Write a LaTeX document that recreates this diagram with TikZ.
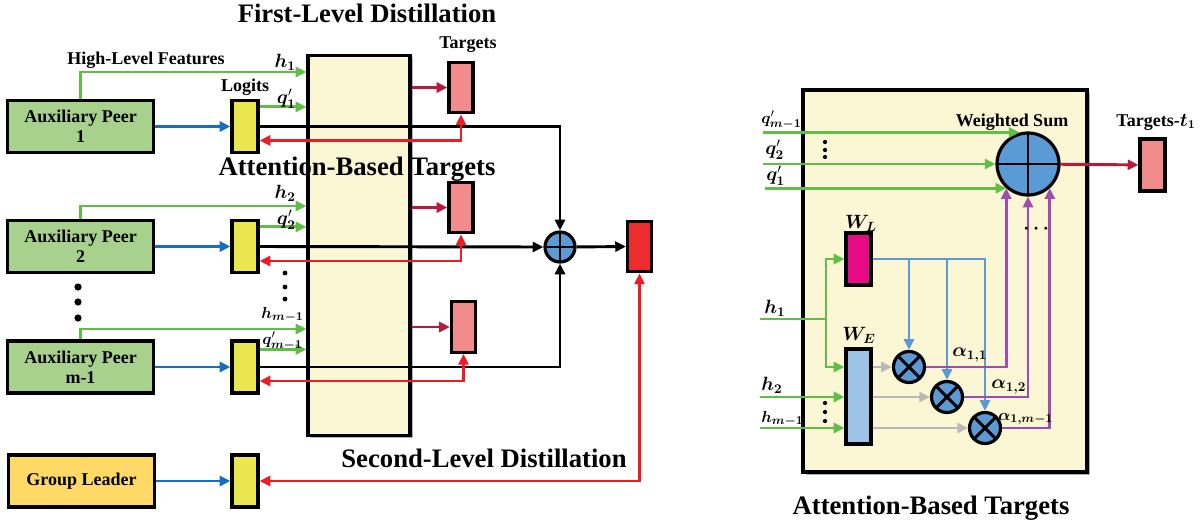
\documentclass[tikz,border=0pt]{standalone}
\usepackage{fontspec}
\setmainfont{Liberation Serif}
\usepackage{amsmath,bm}
\usetikzlibrary{arrows.meta,calc,shadows,positioning}
\definecolor{PeerGreen}{RGB}{169,209,142}
\definecolor{LeadGold}{RGB}{255,217,102}
\definecolor{LogitYellow}{RGB}{234,230,80}
\definecolor{DistCream}{RGB}{251,246,212}
\definecolor{TgtPink}{RGB}{242,140,140}
\definecolor{FinalRed}{RGB}{237,45,45}
\definecolor{SumBlue}{RGB}{91,155,213}
\definecolor{WLMagenta}{RGB}{230,10,135}
\definecolor{WELight}{RGB}{157,195,230}
\definecolor{ArrGreen}{RGB}{95,190,70}
\definecolor{ArrBlue}{RGB}{20,110,195}
\definecolor{ArrRed}{RGB}{237,28,36}
\definecolor{ArrCrimson}{RGB}{185,25,60}
\definecolor{ArrPurple}{RGB}{160,75,175}
\definecolor{ArrGray}{RGB}{185,185,185}
\newcommand{\lblfont}{\fontsize{13.5}{15}\selectfont\bfseries}
\newcommand{\mthfont}{\fontsize{14.5}{16}\selectfont\bfseries}
\newcommand{\smthfont}{\fontsize{12.5}{14}\selectfont\bfseries}
\newcommand{\ttlfont}{\fontsize{20}{24}\selectfont\bfseries}
\tikzset{
  peer/.style={draw,line width=2.4pt,fill=PeerGreen,minimum width=110pt,minimum height=39pt,inner sep=0pt,align=center,font=\lblfont},
  lead/.style={peer,fill=LeadGold},
  logit/.style={draw,line width=2.4pt,fill=LogitYellow,minimum width=19.5pt,minimum height=39pt,inner sep=0pt},
  tgt/.style={draw,line width=2.4pt,fill=TgtPink,minimum width=18pt,minimum height=38pt,inner sep=0pt},
  finalbox/.style={tgt,fill=FinalRed},
  distbox/.style={draw,line width=2.4pt,fill=DistCream,inner sep=0pt,drop shadow={shadow xshift=2pt,shadow yshift=-2pt,fill=black,opacity=0.3}},
  wbox/.style={draw,line width=2.4pt,minimum width=18.75pt,inner sep=0pt},
  oplus/.style={circle,draw,line width=2.4pt,fill=SumBlue,inner sep=0pt,
    path picture={\draw[line width=2.2pt] (path picture bounding box.north) -- (path picture bounding box.south)
      (path picture bounding box.west) -- (path picture bounding box.east);}},
  otimes/.style={circle,draw,line width=2.4pt,fill=SumBlue,inner sep=0pt,minimum size=23.25pt,
    path picture={\draw[line width=2.2pt] (path picture bounding box.north west) -- (path picture bounding box.south east)
      (path picture bounding box.north east) -- (path picture bounding box.south west);}},
  lbl/.style={font=\lblfont,inner sep=0pt},
  mth/.style={font=\mthfont,inner sep=0pt},
  smth/.style={font=\smthfont,inner sep=0pt},
  ttl/.style={font=\ttlfont,anchor=base,inner sep=0pt},
  garr/.style={-{Triangle[length=8pt,width=7.5pt]},ArrGreen,line width=2.2pt},
  gline/.style={ArrGreen,line width=2.2pt},
  barr/.style={-{Triangle[length=8pt,width=7.5pt]},ArrBlue,line width=2.2pt},
  karr/.style={-{Triangle[length=8pt,width=7.5pt]},black,line width=2.2pt},
  rarr/.style={{Triangle[length=8pt,width=7.5pt]}-{Triangle[length=8pt,width=7.5pt]},ArrRed,line width=2.2pt},
  darr/.style={-{Triangle[length=8pt,width=7.5pt]},ArrCrimson,line width=2.2pt},
  parr/.style={-{Triangle[length=8pt,width=7.5pt]},ArrPurple,line width=2pt},
  lbarr/.style={-{Triangle[length=8pt,width=7.5pt]},SumBlue,line width=2pt},
  grarr/.style={-{Triangle[length=8pt,width=7.5pt]},ArrGray,line width=2pt},
}
\begin{document}
\begin{tikzpicture}[x=0.75pt,y=-0.75pt,font=\lblfont]
  \useasboundingbox (0,0) rectangle (1201,525);
  %% First-level distillation
  \node[distbox,minimum width=76.5pt,minimum height=285pt] (dist) at (359,245.5) {};
  \node[peer] (peerA) at (80.5,126.5) {Auxiliary Peer\\1};
  \node[peer] (peerB) at (80.5,246.5) {Auxiliary Peer\\2};
  \node[peer] (peerC) at (80.5,367) {Auxiliary Peer\\m-1};
  \node[lead] (leader) at (81.5,481) {Group Leader};
  \node[logit] (logitA) at (245,126.5) {};
  \node[logit] (logitB) at (245,246.5) {};
  \node[logit] (logitC) at (245,367) {};
  \node[logit] (logitL) at (245,481) {};
  \node[tgt] (tgtA) at (461,87.5) {};
  \node[tgt] (tgtB) at (461,207.5) {};
  \node[tgt] (tgtC) at (463.5,327) {};
  \node[oplus,minimum size=22.5pt] (sumL) at (560,247) {};
  \node[finalbox] (final) at (639.5,246.5) {};
  %% peers to logits
  \draw[barr] (peerA) -- (logitA);
  \draw[barr] (peerB) -- (logitB);
  \draw[barr] (peerC) -- (logitC);
  \draw[barr] (leader) -- (logitL);
  %% high-level features
  \draw[garr] (peerA.north) |- (dist.west |- 0,72);
  \draw[garr] (peerB.north) |- (dist.west |- 0,206);
  \draw[garr] (peerC.north) |- (dist.west |- 0,329);
  \draw[garr] ($(logitA.north east)+(0,8)$) coordinate (qA) -- (qA -| dist.west);
  \draw[garr] ($(logitB.north east)+(0,8)$) coordinate (qB) -- (qB -| dist.west);
  \draw[garr] ($(logitC.north east)+(0,10)$) coordinate (qC) -- (qC -| dist.west);
  %% ensemble
  \draw[karr] (logitA.east) -| (sumL.north);
  \draw[karr] (logitB.east) -- (sumL.west);
  \draw[karr] (logitC.east) -| (sumL.south);
  \draw[karr] (sumL) -- (final);
  %% targets
  \draw[darr] (dist.east |- tgtA) -- (tgtA);
  \draw[darr] (dist.east |- tgtB) -- (tgtB);
  \draw[darr] (dist.east |- tgtC) -- (tgtC);
  \draw[rarr] (tgtA.south) |- ($(logitA.east)+(0,14)$);
  \draw[rarr] (tgtB.south) |- ($(logitB.east)+(0,14.5)$);
  \draw[rarr] (tgtC.south) |- ($(logitC.east)+(0,14)$);
  \draw[rarr] (final.south) |- (logitL.east);
  %% dots
  \foreach \y in {287,302,318} \fill (78,\y) circle (2.7pt);
  \foreach \y in {273,287,299} \fill (285,\y) circle (1.8pt);
  %% labels
  \node[ttl] (ttlA) at (367,22) {First-Level Distillation};
  \node[ttl] (ttlB) at (357,175) {Attention-Based Targets};
  \node[ttl] (ttlC) at (484,467) {Second-Level Distillation};
  \node[lbl,anchor=base] (hlf) at (146,64) {High-Level Features};
  \node[lbl,anchor=base] (lgt) at (245,91.5) {Logits};
  \node[lbl,anchor=base] (tgl) at (468,48) {Targets};
  \node[mth,anchor=east] (hAl) at (296,62) {$\bm{h}_{\bm{1}}$};
  \node[mth,anchor=east] (qAl) at (296,99) {$\bm{q}'_{\bm{1}}$};
  \node[mth,anchor=east] (hBl) at (296,193) {$\bm{h}_{\bm{2}}$};
  \node[mth,anchor=east] (qBl) at (296,220) {$\bm{q}'_{\bm{2}}$};
  \node[smth,anchor=east] (hCl) at (304,315) {$\bm{h}_{\bm{m-1}}$};
  \node[smth,anchor=east] (qCl) at (303,341) {$\bm{q}'_{\bm{m-1}}$};

  %% Attention-based targets
  \node[distbox,minimum width=213pt,minimum height=286.5pt] (att) at (945,281) {};
  \node[oplus,minimum size=46.5pt] (wsum) at (1028,164) {};
  \node[tgt,minimum width=18.75pt,minimum height=39pt] (tgtR) at (1152.5,165) {};
  \node[wbox,fill=WLMagenta,minimum height=39pt] (WL) at (858.5,259) {};
  \node[wbox,fill=WELight,minimum height=71.25pt] (WE) at (858.5,396.5) {};
  \node[otimes] (mulA) at (909,367) {};
  \node[otimes] (mulB) at (947,397) {};
  \node[otimes] (mulC) at (985,428) {};
  \coordinate (hJ) at (826,319);
  %% inputs
  \draw[garr] (763,0 |- wsum.105) -- (wsum.105);
  \draw[garr] (763,0 |- wsum.west) -- (wsum.west);
  \draw[garr] (765,0 |- wsum.228) -- (wsum.228);
  \draw[gline] (760,0 |- hJ) -- (hJ);
  \draw[garr] (hJ) |- (WL.west);
  \draw[garr] (hJ) |- (WE.west |- mulA);
  \draw[garr] (760,0 |- mulB) -- (WE.west |- mulB);
  \draw[garr] (760,0 |- mulC) -- (WE.west |- mulC);
  %% attention weights
  \draw[grarr] (WE.east |- mulA) -- (mulA);
  \draw[grarr] (WE.east |- mulB) -- (mulB);
  \draw[grarr] (WE.east |- mulC) -- (mulC);
  \draw[lbarr] (WL.east) -| (mulC.north);
  \draw[lbarr] (WL.east -| mulA.north) -- (mulA.north);
  \draw[lbarr] (WL.east -| mulB.north) -- (mulB.north);
  \draw[parr] (mulA.east) -| (wsum.228);
  \draw[parr] (mulB.east) -| (wsum.south);
  \draw[parr] (mulC.east) -| (wsum.312);
  \draw[darr] (wsum) -- (tgtR);
  %% dots
  \foreach \y in {142,150,157} \fill (825,\y) circle (1.6pt);
  \foreach \y in {403,412,421} \fill (825,\y) circle (1.6pt);
  %% labels
  \node[lbl,anchor=base] (wsl) at (1012,126) {Weighted Sum};
  \node[lbl,anchor=base] (tgrl) at (1156,126) {Targets-$\bm{t}_{\bm{1}}$};
  \node[smth,anchor=west] (qmr) at (761,120) {$\bm{q}'_{\bm{m-1}}$};
  \node[mth,anchor=west] (q2r) at (765,150) {$\bm{q}'_{\bm{2}}$};
  \node[mth,anchor=west] (q1r) at (766,176) {$\bm{q}'_{\bm{1}}$};
  \node[mth] (WLl) at (861,223) {$\bm{W}_{\bm{L}}$};
  \node[mth] (WEl) at (859,335) {$\bm{W}_{\bm{E}}$};
  \node[mth,anchor=west] (h1r) at (764,308) {$\bm{h}_{\bm{1}}$};
  \node[mth,anchor=west] (h2r) at (761,385) {$\bm{h}_{\bm{2}}$};
  \node[smth,anchor=west] (hmr) at (761,419) {$\bm{h}_{\bm{m-1}}$};
  \node[mth,anchor=west] (a1l) at (952,355) {$\bm{\alpha}_{\bm{1,1}}$};
  \node[mth,anchor=west] (a2l) at (991,387) {$\bm{\alpha}_{\bm{1,2}}$};
  \node[smth,anchor=west] (a3l) at (998,419) {$\bm{\alpha}_{\bm{1,m-1}}$};
  \node[mth] (dotl) at (1038,229) {$\bm{\cdots}$};
  \node[ttl] (ttlD) at (931,514) {Attention-Based Targets};
\end{tikzpicture}
\end{document}
